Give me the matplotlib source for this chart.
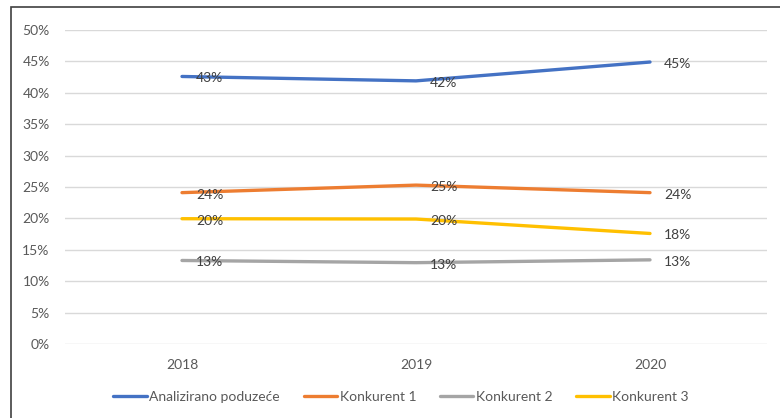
import matplotlib
matplotlib.use("Agg")
import matplotlib.pyplot as plt
from matplotlib.patches import Rectangle
from matplotlib.ticker import FuncFormatter

years = ["2018", "2019", "2020"]
analizirano = [42.6, 41.9, 44.9]
konkurent1 = [24.1, 25.3, 24.1]
konkurent2 = [13.3, 12.95, 13.4]
konkurent3 = [19.95, 19.9, 17.6]
series_names = ["Analizirano poduzeće", "Konkurent 1", "Konkurent 2", "Konkurent 3"]
label_texts = [["43%", "42%", "45%"], ["24%", "25%", "24%"], ["13%", "13%", "13%"], ["20%", "20%", "18%"]]
colors = ["#4472C4", "#ED7D31", "#A5A5A5", "#FFC000"]

plt.rcParams['font.family'] = ['Lato', 'DejaVu Sans']
W, H = 780, 418
fig = plt.figure(figsize=(W / 100, H / 100), dpi=100)
ax = fig.add_axes([65 / W, 1 - 344 / H, (767 - 65) / W, (344 - 30) / H])

data = [analizirano, konkurent1, konkurent2, konkurent3]
x = list(range(len(years)))
for vals, name, c, labs in zip(data, series_names, colors, label_texts):
    ax.plot(x, vals, color=c, lw=2.4, label=name, solid_capstyle='round', zorder=3)
    for xi, v, t in zip(x, vals, labs):
        ax.annotate(t, (xi, v), xytext=(14, -2), textcoords='offset pixels',
                    ha='left', va='center', fontsize=10, color='#404040', zorder=4)

ax.set_xlim(-0.5, 2.5)
ax.set_ylim(0, 50)
ax.set_yticks(range(0, 51, 5))
ax.yaxis.set_major_formatter(FuncFormatter(lambda v, p: f"{int(v)}%"))
ax.set_xticks(x)
ax.set_xticklabels(years)
ax.grid(axis='y', color='#D9D9D9', lw=1)
ax.set_axisbelow(True)
for s in ax.spines.values():
    s.set_visible(False)
ax.tick_params(length=0, labelsize=10, colors='#595959')
ax.tick_params(axis='y', pad=11)
ax.tick_params(axis='x', pad=11)

leg = fig.legend(loc='center', bbox_to_anchor=(401 / W, 1 - 397 / H), ncol=4, frameon=False,
                 fontsize=10, handlelength=2.4, handletextpad=0.2, columnspacing=1.7)
for t in leg.get_texts():
    t.set_color('#595959')

fig.patches.append(Rectangle((10.5 / W, -0.1), 1.2, 1 - 6.5 / H + 0.1, transform=fig.transFigure,
                             fill=False, edgecolor='#404040', lw=1.2))

fig.savefig("out.png", dpi=100, facecolor='white')
